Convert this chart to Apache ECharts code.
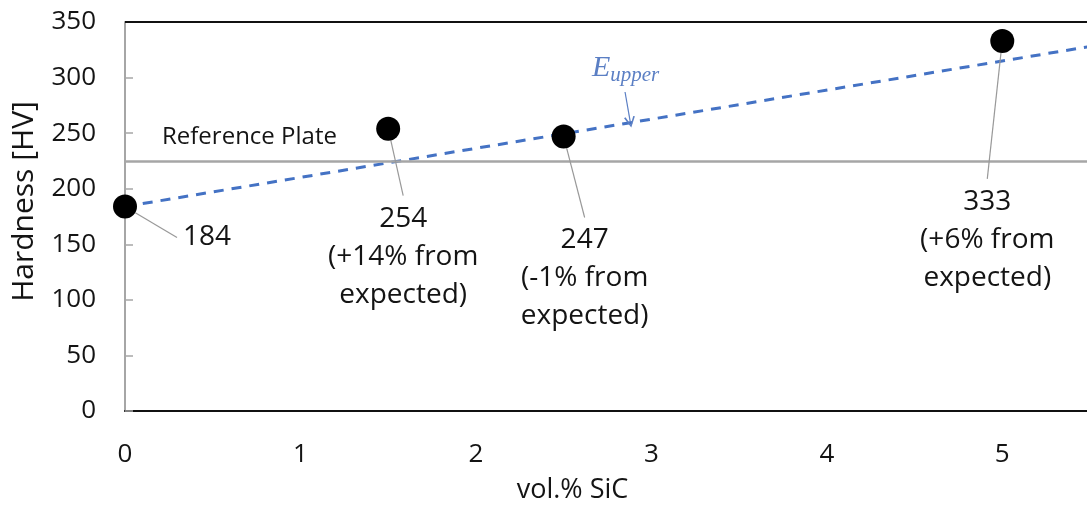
<!DOCTYPE html>
<html>
<head>
<meta charset="utf-8">
<script src="https://cdn.jsdelivr.net/npm/echarts@6/dist/echarts.min.js"></script>
<style>
  html, body { margin: 0; padding: 0; background: #fff; }
  #chart { width: 1087px; height: 505px; }
</style>
</head>
<body>
<div id="chart"></div>
<script>
// Measured hardness vs SiC content
const sicVol = [0, 1.5, 2.5, 5];
const hardness = [184, 254, 247, 333];
const deviation = [null, '+14%', '-1%', '+6%'];

// Upper-bound estimate (E_upper), straight line across the range
const upperX = [0, 5.5];
const upperY = [184, 328];

// Hardness of the reference plate
const referencePlate = 225;

// Where E_upper's callout arrow starts and ends (x, y in data units)
const upperArrow = [[2.85, 287], [2.88, 260]];

// Label offsets (px) from each point
const labelOffsets = [[82, 31], [15, 128], [21, 142], [-15, 199]];

const FONT = '"Open Sans", "Liberation Sans", sans-serif';
const SERIF = '"Liberation Serif", "DejaVu Serif", serif';
const TEXT = '#141414';
const BLUE = '#5b7fc4';

const pointLabels = hardness.map((v, i) =>
  deviation[i] ? v + '\n(' + deviation[i] + ' from\nexpected)' : String(v));

const chart = echarts.init(document.getElementById('chart'));

chart.setOption({
  animation: false,
  backgroundColor: '#fff',
  grid: { left: 125, right: -3, top: 22, bottom: 94, containLabel: false, outerBoundsMode: 'none' },
  xAxis: {
    type: 'value', min: 0, max: 5.5, interval: 1,
    name: 'vol.% SiC', nameLocation: 'middle', nameGap: 66,
    nameTextStyle: { fontFamily: FONT, fontSize: 27, color: TEXT, padding: [0, 70, 0, 0] },
    axisLine: { show: true, lineStyle: { color: '#111', width: 2 } },
    axisTick: { show: false },
    splitLine: { show: false },
    axisLabel: { fontFamily: FONT, fontSize: 26, color: TEXT, margin: 31, showMaxLabel: false }
  },
  yAxis: {
    type: 'value', min: 0, max: 350, interval: 50,
    name: 'Hardness [HV]', nameLocation: 'middle', nameGap: 86,
    nameTextStyle: { fontFamily: FONT, fontSize: 30, color: TEXT, padding: [0, 0, 0, 30] },
    axisLine: { show: true, lineStyle: { color: '#a6a6a6', width: 2 } },
    axisTick: { show: true, inside: true, length: 8, lineStyle: { color: '#a6a6a6', width: 1.5 } },
    splitLine: { show: false },
    axisLabel: { fontFamily: FONT, fontSize: 26, color: TEXT, margin: 29 }
  },
  series: [
    {
      // E_upper estimate
      type: 'line',
      data: upperX.map((x, i) => [x, upperY[i]]),
      symbol: 'none',
      lineStyle: { color: '#4472c4', width: 3, type: [10, 8] },
      z: 2,
      markLine: {
        silent: true,
        symbol: ['none', 'path://M0,10 L5,0 L10,10 L8.6,10.6 L5,3 L1.4,10.6 Z'],
        symbolSize: [11, 11],
        lineStyle: { color: BLUE, width: 1.2, type: 'solid' },
        itemStyle: { color: BLUE },
        label: {
          show: true, position: 'start', distance: [-3, 7],
          formatter: '{e|E}{s|upper}',
          rich: {
            e: { fontFamily: SERIF, fontStyle: 'italic', fontSize: 30, color: BLUE, lineHeight: 34 },
            s: { fontFamily: SERIF, fontStyle: 'italic', fontSize: 21, color: BLUE, padding: [14, 0, 0, 0], lineHeight: 34 }
          }
        },
        data: [[{ coord: upperArrow[0] }, { coord: upperArrow[1] }]]
      }
    },
    {
      // reference plate level and top border line
      type: 'line',
      data: [],
      markLine: {
        silent: true,
        symbol: 'none',
        data: [
          {
            yAxis: referencePlate,
            lineStyle: { color: '#a6a6a6', width: 2.5, type: 'solid' },
            label: {
              show: true, position: 'insideStartTop', distance: [37, 12],
              formatter: 'Reference Plate',
              fontFamily: FONT, fontSize: 24, color: TEXT
            }
          },
          {
            yAxis: 350,
            lineStyle: { color: '#111', width: 2, type: 'solid' },
            label: { show: false }
          }
        ]
      }
    },
    {
      // measured values
      type: 'scatter',
      data: sicVol.map((x, i) => [x, hardness[i]]),
      symbol: 'circle',
      symbolSize: 24,
      itemStyle: { color: '#000', opacity: 1 },
      z: 5,
      label: {
        show: true,
        position: 'inside',
        formatter: p => pointLabels[p.dataIndex],
        fontFamily: FONT, fontSize: 28, color: TEXT,
        lineHeight: 38, align: 'center',
        padding: [4, 6]
      },
      labelLine: { show: true, lineStyle: { color: '#999', width: 1.2, opacity: 1 } },
      labelLayout: p => ({ dx: labelOffsets[p.dataIndex][0], dy: labelOffsets[p.dataIndex][1] })
    }
  ]
});
</script>
</body>
</html>
